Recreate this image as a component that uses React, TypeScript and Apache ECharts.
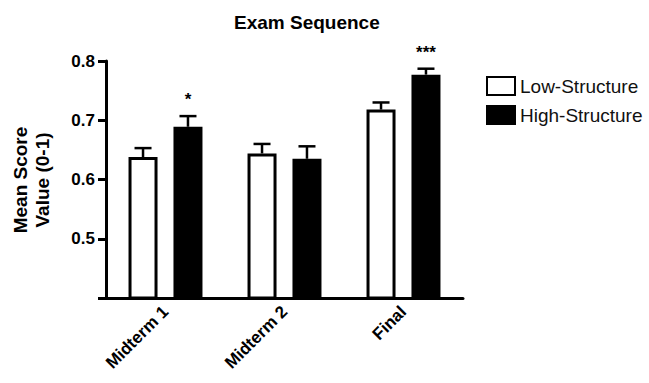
import React, { useEffect, useRef } from "react";
import * as echarts from "echarts";

const categories = ["Midterm 1", "Midterm 2", "Final"];
const lowStructure = [0.638, 0.644, 0.718];
const lowStructureErr = [0.015, 0.016, 0.012];
const highStructure = [0.689, 0.635, 0.777];
const highStructureErr = [0.018, 0.021, 0.010];
const significance = ["*", "", "***"];
const yTicks = [0.4, 0.5, 0.6, 0.7, 0.8];

const FONT = "Liberation Sans, Arial, Helvetica, sans-serif";
const BAR_W = 29;
const BAR_GAP = 0.55;
const OFFSET = (BAR_W + BAR_W * BAR_GAP) / 2;

export default function App() {
  const ref = useRef<HTMLDivElement>(null);
  useEffect(() => {
    if (!ref.current) return;
    const chart = echarts.init(ref.current, undefined, { renderer: "svg" });

    const errRender = (values: number[], errs: number[], dir: number, stars?: string[]) =>
      (params: any, api: any) => {
        const i = api.value(0);
        const v = values[i];
        const e = errs[i];
        const base = api.coord([i, v]);
        const top = api.coord([i, v + e]);
        const x = base[0] + dir * OFFSET;
        const cap = 8.5;
        const children: any[] = [
          { type: "line", shape: { x1: x, y1: base[1], x2: x, y2: top[1] }, style: { stroke: "#000", lineWidth: 2.5 } },
          { type: "line", shape: { x1: x - cap, y1: top[1], x2: x + cap, y2: top[1] }, style: { stroke: "#000", lineWidth: 2.5 } },
        ];
        if (stars && stars[i]) {
          children.push({
            type: "text",
            style: {
              text: stars[i],
              x: x,
              y: top[1] - 8,
              textAlign: "center",
              textVerticalAlign: "bottom",
              font: `bold 17px ${FONT}`,
              fill: "#000",
            },
          });
        }
        return { type: "group", children };
      };

    chart.setOption({
      animation: false,
      backgroundColor: "#fff",
      title: {
        text: "Exam Sequence",
        left: 229,
        top: 8,
        textStyle: { fontFamily: FONT, fontSize: 19, fontWeight: "bold", color: "#000" },
      },
      legend: {
        orient: "vertical",
        left: 481,
        top: 71,
        itemWidth: 28,
        itemHeight: 18,
        itemGap: 9,
        icon: "rect",
        textStyle: { fontFamily: FONT, fontSize: 19, color: "#111" },
        data: ["Low-Structure", "High-Structure"],
      },
      grid: { left: 106, right: 186, top: 61, bottom: 85, containLabel: false },
      xAxis: {
        type: "category",
        data: categories,
        axisLine: { lineStyle: { color: "#000", width: 3 } },
        axisTick: { alignWithLabel: true, length: 7, lineStyle: { color: "#000", width: 3 } },
        axisLabel: {
          rotate: 45,
          margin: 11,
          fontFamily: FONT,
          fontSize: 17,
          fontWeight: "bold",
          color: "#000",
        },
      },
      yAxis: {
        type: "value",
        min: yTicks[0],
        max: yTicks[yTicks.length - 1],
        interval: 0.1,
        splitLine: { show: false },
        axisLine: { show: true, lineStyle: { color: "#000", width: 3 } },
        axisTick: { show: true, length: 8, lineStyle: { color: "#000", width: 3 } },
        axisLabel: {
          margin: 11,
          fontFamily: FONT,
          fontSize: 17,
          fontWeight: "bold",
          color: "#000",
          formatter: (v: number) => (Math.abs(v - 0.4) < 1e-6 ? "" : v.toFixed(1)),
        },
      },
      graphic: [
        {
          type: "text",
          x: 31,
          y: 180,
          rotation: Math.PI / 2,
          style: {
            text: "Mean Score\nValue (0-1)",
            textAlign: "center",
            textVerticalAlign: "middle",
            font: `bold 19px ${FONT}`,
            lineHeight: 22,
            fill: "#000",
          },
        },
      ],
      series: [
        {
          name: "Low-Structure",
          type: "bar",
          data: lowStructure,
          barWidth: BAR_W,
          barGap: `${BAR_GAP * 100}%`,
          itemStyle: { color: "#fff", borderColor: "#000", borderWidth: 3 },
        },
        {
          name: "High-Structure",
          type: "bar",
          data: highStructure,
          barWidth: BAR_W,
          barGap: `${BAR_GAP * 100}%`,
          itemStyle: { color: "#000", borderColor: "#000", borderWidth: 3 },
        },
        {
          type: "custom",
          data: categories.map((_, i) => [i]),
          renderItem: errRender(lowStructure, lowStructureErr, -1),
          z: 1,
          silent: true,
        },
        {
          type: "custom",
          data: categories.map((_, i) => [i]),
          renderItem: errRender(highStructure, highStructureErr, 1, significance),
          z: 1,
          silent: true,
        },
      ],
    });
    return () => chart.dispose();
  }, []);
  return <div ref={ref} style={{ position: "fixed", left: 0, top: 0, width: 649, height: 383 }} />;
}
